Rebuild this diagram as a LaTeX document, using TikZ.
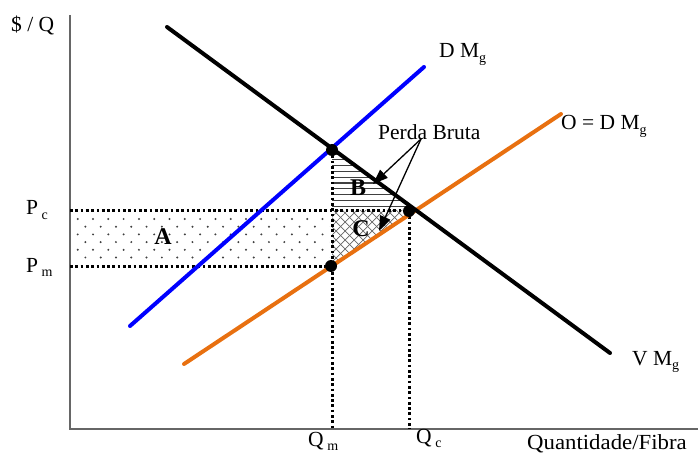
\documentclass[tikz,border=0pt]{standalone}
\usepackage{fontspec}
\setmainfont{Liberation Serif}
\usetikzlibrary{arrows.meta}
\definecolor{orng}{RGB}{232,112,16}
\definecolor{bluel}{RGB}{0,0,255}
\newcommand{\lsub}[1]{\raisebox{-4.5pt}{\fontsize{14}{14}\selectfont #1}}
\begin{document}
\begin{tikzpicture}[x=1pt,y=-1pt,
  curve/.style={line width=4pt, line cap=round},
  axisline/.style={line width=1.6pt, draw=black!60},
  guide/.style={line width=3pt, dash pattern=on 2.7pt off 2.6pt},
  eqdot/.style={circle, fill=black, inner sep=0pt, minimum size=12pt},
  lbl/.style={font=\fontsize{21.5}{21.5}\selectfont, inner sep=0pt, anchor=base west},
  area/.style={font=\fontsize{24}{24}\selectfont\bfseries, inner sep=0pt},
  pointer/.style={line width=1.3pt, -{Triangle[length=15pt,width=11pt]}}]
\useasboundingbox (0,0) rectangle (698,454);

% key points
\coordinate (origin) at (70,429);
\coordinate (ytop) at (70,15);
\coordinate (xend) at (698,429);
\coordinate (vs) at (167,27);
\coordinate (ve) at (610,353);
\coordinate (bs) at (130,326);
\coordinate (be) at (424,67);
\coordinate (os) at (184,364);
\coordinate (oe) at (561,114);
\coordinate (E1) at (332,150);
\coordinate (E2) at (409,211);
\coordinate (E3) at (331,266);

% area A dots
\begin{scope}
\clip (72,212) rectangle (329,264);
\foreach \r in {0,...,5} {
  \pgfmathsetmacro\yy{219+7.7*\r}
  \pgfmathsetmacro\off{mod(\r,2)*7.65}
  \foreach \c in {0,...,17} {
    \fill[black!75] ({77.7+\off+15.3*\c},\yy) circle (1.1pt);
  }
}
\end{scope}

% area B horizontal hatch
\begin{scope}
\clip (332,150) -- (332,210) -- (417,210) -- cycle;
\foreach \k in {0,...,11} \draw[black!75, line width=1.1pt] (330,{154+5.8*\k}) -- (420,{154+5.8*\k});
\end{scope}

% area C crosshatch
\begin{scope}
\clip (332,210) -- (417,210) -- (332,266) -- cycle;
\foreach \k in {-14,...,14} {
  \draw[black!60, line width=0.7pt] ({332+9*\k},200) -- ++(80,80);
  \draw[black!60, line width=0.7pt] ({332+9*\k},280) -- ++(80,-80);
}
\end{scope}

% axes
\draw[axisline] (ytop) -- (origin) -- (xend);

% guides
\draw[guide] (E1) -- (E1 |- origin);
\draw[guide] (E2) -- (E2 |- origin);
\draw[guide] (origin |- E2) -- (E2);
\draw[guide] (origin |- E3) -- (E3);

% curves
\draw[curve, bluel] (bs) -- (be);
\draw[curve, orng] (os) -- (oe);
\draw[curve, black] (vs) -- (ve);

% equilibrium dots
\node[eqdot] (d1) at (E1) {};
\node[eqdot] (d2) at (E2) {};
\node[eqdot] (d3) at (E3) {};

% labels
\node[lbl] (ylab) at (11,32) {\$ / Q};
\node[lbl] (dmg) at (439,58) {D M\lsub{g}};
\node[lbl] (odmg) at (561,130) {O = D M\lsub{g}};
\node[lbl] (vmg) at (632,365) {V M\lsub{g}};
\node[lbl] (pc) at (26,215) {P\,\lsub{c}};
\node[lbl] (pm) at (26,272) {P\,\lsub{m}};
\node[lbl] (qm) at (308,446) {Q\,\lsub{m}};
\node[lbl] (qc) at (416,443) {Q\,\lsub{c}};
\node[lbl] (qf) at (527,449) {\scalebox{1.06}[1]{Quantidade/Fibra}};
\node[lbl] (pb) at (378,140) {Perda Bruta};

\node[area] (A) at (163,237) {A};
\node[area] (B) at (358,188) {B};
\node[area] (C) at (361,229) {C};

% pointers
\coordinate (pbfoot) at (421,139);
\coordinate (tipB) at (373,184);
\coordinate (tipC) at (379,231);
\draw[pointer] (pbfoot) -- (tipB);
\draw[pointer] (pbfoot) -- (tipC);
\end{tikzpicture}
\end{document}
